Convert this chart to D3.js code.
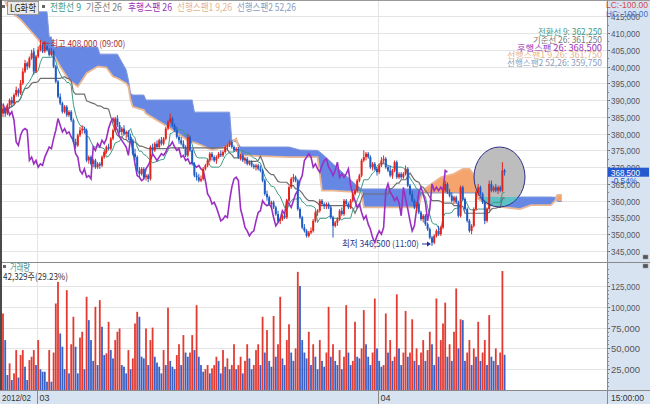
<!DOCTYPE html>
<html><head><meta charset="utf-8">
<script src="https://cdn.jsdelivr.net/npm/d3@7/dist/d3.min.js"></script>
<style>
html,body{margin:0;padding:0;background:#fff;overflow:hidden}
svg{display:block}
text{font-family:"Noto Sans CJK KR","Noto Sans",sans-serif}
.num{font-family:"Liberation Sans",Arial,sans-serif}
</style></head><body>
<svg id="chart" width="650" height="404"></svg>
<script>
// ---- DATA (prices in thousand KRW, volume in thousand shares) ----
const opens=[386,387.5,386,388.5,390,389,391.5,393,392,395,
398.5,401,400,402.5,404.5,398.5,403,405,406.5,404.5,
406,405,403.5,404.5,400,395.5,391,389,386.5,388,
385.5,386.5,384,377.5,376.5,379.5,381,381.5,381,372,
373,371,372,370,371,370.5,373,374.5,376,375.5,
378.5,381,384.5,382.5,380.5,381.5,380,380.5,379,378,
374,373,369,368,369.5,367,367.5,366.5,376,375,
377,376,378,377,378.5,381.5,383.5,384.5,382.5,381,
379,378,377,376,373.5,379,375,371,367.5,367,
366,366.5,369.5,370.5,372,374,373,372,373,374,
373.5,374.5,376,376.5,377.5,376,375,375.5,373,373.5,
372,372.5,371,371.5,370.5,370,370.5,369.5,369,366,
362,361,359,359.5,358,356,354,354.5,355.5,355,
360,364,366.5,367,366,357.5,355,352,351,349.5,
350.5,351,354,356.5,357,360,359,358.5,359,358,
355,352.5,353.5,354.5,357,356,360,359,358,360,
362,363,366,367.5,372,373,374,373,370,371,
369.5,368.5,370.5,372,372.5,370,369,367.5,369,371.5,
367,368,367,368,369.5,364.5,362,360,358,359,
356.5,354.5,355.5,353,351.5,349,347.5,349.5,351,350,
352,363,365,362.5,361.5,360,361,359.5,355.5,364,
360.5,357.5,354,351,352.5,357.5,362.5,364,362,359.5,
354,357.5,365,363,364,363,364,363,369];
const closes=[387.5,386,388.5,390,389,391.5,393,392,395,398.5,
401,400,402.5,404,398.5,403,405,406.5,404.5,406,
405,403.5,404.5,400,395.5,391,389,386.5,388,385.5,
386.5,384,377.5,376.5,379.5,381,381.5,381,372,373,
371,372,370,371,370.5,373,374.5,376,375.5,378.5,
381,384.5,382.5,380.5,381.5,380,380.5,379,378,374,
373,369,368,369.5,367,367.5,366.5,376,375,377,
376,378,377,378.5,381.5,383.5,384.5,382.5,381,379,
378,377,376,373.5,379,375,371,367.5,367,366,
366.5,369.5,370.5,372,374,373,372,373,374,373.5,
374.5,376,376.5,377.5,376,375,375.5,373,373.5,372,
372.5,371,371.5,370.5,370,370.5,369.5,369,366,362,
361,359,359.5,358,356,354,354.5,355.5,355,360,
364,366.5,367,366,357.5,355,352,351,349.5,350.5,
351,354,356.5,357,360,359,358.5,359,358,355,
352.5,353.5,354.5,357,356,360,359,358,360,362,
363,366,367.5,372,373,374,373,370,371,369.5,
368.5,370.5,372,372.5,370,369,367.5,369,371.5,367,
368,367,368,369.5,364.5,362,360,358,359,356.5,
354.5,355.5,353,351.5,349,347.5,349.5,351,350,352,
363,365,362.5,361.5,360,361,359.5,355.5,364,360.5,
357.5,354,351,352.5,357.5,362.5,364,362,359.5,354,
357.5,365,363,364,363,364,363,369,368.5];
const highs=[388.5,388,389,390.5,391,392,394,393.5,396,399.5,
402,401.5,403,405,405.5,403.5,406,408,407,407,
406.5,405.5,405.5,405,400.5,396,392,389.5,388.5,388.5,
387,387,384.5,378.5,380,382,382.5,382,381.5,373.5,
373.5,372.5,372.5,371.5,371.5,373.5,375,376.5,377,379,
381.5,385,385.5,383.5,382,382.5,381,381,380,378.5,
375.5,373.5,370,370,370,368,368,376.5,377,377.5,
378,378.5,379,379,382,384,386,385,383,382,
379.5,379,378,376.5,380,379.5,375.5,371.5,368.5,368,
367.5,370,371,372.5,374.5,374.5,373.5,373.5,374.5,375,
375,376.5,377,378,378,376.5,376,376,374,374,
373,373,372,372,371,371,371,370.5,369.5,366.5,
363,361.5,360,360,358.5,357,355,356,356,360.5,
364.5,367,368,367.5,366.5,358,355.5,353,351.5,351,
352,354.5,357,357.5,360.5,360.5,359.5,359.5,359.5,358.5,
355.5,354,355,357.5,358,360.5,360.5,359.5,360.5,362.5,
363.5,366.5,368,372.5,375,374.5,374.5,373.5,371.5,371.5,
370,371,373,373.5,373,370.5,370.5,369.5,372,372,
368.5,368.5,368.5,370.5,370,365,363,360.5,359.5,359.5,
357,356,356,353.5,352,349.5,350,351.5,352.5,352.5,
363.5,366,365.5,363.5,362.5,361.5,361.5,360,364.5,364.5,
361,358,354.5,353,358,363,365,364.5,362.5,360,
358,366,366,364.5,365,364.5,364.5,371.5,369.5];
const lows=[385,385,385.5,387.5,388,388.5,391,391,391.5,394.5,
398,399,399.5,402,397.5,398,402.5,404.5,404,404,
404.5,403,403,399.5,395,390.5,388.5,386,386,385,
385,383.5,377,375.5,376,379,380,380,371.5,371,
370.5,370,369.5,369.5,369.5,370,372.5,374,375,375,
378,380.5,382,380,379.5,379.5,378.5,378,377.5,373.5,
372,368.5,367,367.5,366.5,366,365.5,366,374,374.5,
375.5,375.5,376.5,376.5,378,381,383,382,380.5,378.5,
377,376.5,375.5,373,373,374.5,370.5,367,366,365.5,
365.5,366,369,370,371.5,372,371.5,371,372.5,373,
373,374,375,376,375.5,374.5,374.5,372.5,372,371.5,
371,370.5,370.5,370,369.5,369,369,368.5,365.5,361.5,
360,358.5,357.5,357.5,355.5,353.5,353,354,354.5,354.5,
359.5,363.5,365.5,365.5,357,354.5,351.5,350.5,349,349,
350,350.5,353.5,355.5,356.5,358.5,357.5,357.5,357.5,354.5,
349,352,352.5,354,355.5,355.5,358.5,357.5,357.5,359.5,
361.5,362.5,365.5,367,371.5,372,372.5,369.5,369,369,
367.5,368,370,371,369.5,368.5,367,366.5,368.5,366.5,
366.5,366.5,366.5,367.5,364,361.5,359.5,357.5,356.5,356,
354,353.5,352.5,351,348.5,346.5,347,349,349.5,349.5,
351.5,362.5,362,361,359.5,359,359,355,355,360,
357,353.5,350.5,350,352,357,361.5,361.5,359,353,
353.5,357,362.5,362.5,362.5,362,362.5,362.5,367.5];
const volumes=[92,60,18,32,12,20,48,15,42,48,
28,12,36,40,48,30,60,25,22,22,
10,48,10,45,104,130,68,52,25,120,
20,55,88,52,20,63,70,25,112,84,
60,35,100,30,108,76,42,44,82,48,
38,60,70,74,30,28,20,48,25,38,
80,94,88,40,38,74,30,60,75,40,
33,28,20,48,30,99,35,28,25,42,
55,30,66,45,40,45,66,48,102,40,
30,22,25,30,20,26,30,40,35,20,
48,28,38,25,30,55,25,30,40,20,
35,55,38,25,30,48,55,30,88,45,
72,35,28,89,40,55,112,38,30,60,
79,45,35,50,142,125,60,45,38,70,
30,55,40,25,60,35,28,45,100,40,
55,35,30,48,25,40,102,45,30,35,
82,40,38,50,96,55,40,30,45,110,
50,35,28,30,92,45,60,35,40,115,
50,30,45,95,40,45,85,35,50,30,
45,60,35,48,70,55,30,110,40,60,
80,105,40,55,35,70,122,50,85,84,
35,45,60,30,50,40,82,35,45,60,
30,90,40,35,50,30,45,143,42.329];
// Ichimoku cloud (leading spans, already shifted 26 periods ahead) read at break points
const cloudIdx=[0,3,8,13,20,21,22,23,26,30,34,38,43,44,47,50,52,56,57,58,59,64,65,75,84,86,87,90,95,101,103,104,106,108,130,135,143,145,150,155,160,163,164,189,190,192,199,205,209,212,215,216,221,228,235,240,249,251,252,254];
const span1=[421,416.5,414,410.3,405,404.5,404,403.5,400,396,394,398,400,400,399.7,397,396.5,395,394,390,388,387,386,382,378,377.5,377.3,376.6,375.1,376,377,377.5,378.5,373.5,373,373,373,363,363,362.8,362.6,362.5,358,358,361,363.7,367,368,369.5,369.5,367,360.5,358.7,358,357.5,358.7,358.7,360,361.75,361.75];
const span2=[421,416.6,416.3,416.3,416.3,408.8,408.8,405.8,405.8,405.8,405.8,405.8,405.8,403.7,403.7,403.7,403.7,399,396,392,391.5,391.5,390,390,390,390,386.4,386.4,386.4,386.4,386.4,378,377.5,376,376,375.1,375,374,371,368,365,363.5,363.5,363.5,362.3,362.3,362.3,362.3,362.3,362.3,362.3,361.1,361.1,361.1,361.1,361.1,361.1,361,359.75,359.75];
const priceTicks=[345,350,355,360,365,370,375,380,385,390,395,400,405,410,415];
const volTicks=[25,50,75,100,125];
const monthStarts=[{label:"03",idx:16},{label:"04",idx:171}];
const legendItems=[
 {t:"전환선 9",x:50,w:31,c:"#3d9a86"},
 {t:"기준선 26",x:86,w:36,c:"#7a7a7a"},
 {t:"후행스팬 26",x:128,w:44,c:"#9b30b8"},
 {t:"선행스팬1 9,26",x:177,w:55,c:"#e6b48e"},
 {t:"선행스팬2 52,26",x:237,w:59,c:"#8a9cbc"}];
const valueItems=[
 {t:"전환선 9: 362,250",w:64,c:"#3d9a86"},
 {t:"기준선 26: 361,250",w:69,c:"#7a7a7a"},
 {t:"후행스팬 26: 368,500",w:85,c:"#9b30b8"},
 {t:"선행스팬1 9,26: 361,750",w:95,c:"#e6b48e"},
 {t:"선행스팬2 52,26: 359,750",w:95,c:"#8a9cbc"}];

// ---- LAYOUT ----
const svg=d3.select("#chart");
const AX=607, PT=1, PB=262, VT=263, VB=390;
const N=closes.length;
const x=d3.scaleLinear().domain([0,254]).range([3,3+254*2.2]);
const y=d3.scaleLinear().domain([345,410]).range([251,33]);
const yv=d3.scaleLinear().domain([0,125]).range([390,286]);
const fmt=d3.format(",");
const RED="#e3241b", BLUE="#1f5cc4";

const defs=svg.append("defs");
defs.append("clipPath").attr("id","pclip").append("rect").attr("x",2).attr("y",PT).attr("width",AX-2).attr("height",PB-PT);
defs.append("clipPath").attr("id","vclip").append("rect").attr("x",2).attr("y",VT).attr("width",AX-2).attr("height",VB-VT);
const EC={cx:499.5,cy:177,rx:25.5,ry:30};
defs.append("clipPath").attr("id","eclip").append("ellipse").attr("cx",EC.cx).attr("cy",EC.cy).attr("rx",EC.rx).attr("ry",EC.ry);

// backgrounds
svg.append("rect").attr("x",0).attr("y",0).attr("width",650).attr("height",404).attr("fill","#fff");
svg.append("rect").attr("x",AX).attr("y",0).attr("width",650-AX).attr("height",404).attr("fill","#d8e3f2");
svg.append("rect").attr("x",0).attr("y",VB).attr("width",650).attr("height",404-VB).attr("fill","#d8e3f2");

// grids
const grid=svg.append("g").attr("stroke","#e4e4e4").attr("stroke-width",1);
priceTicks.forEach(v=>{const yy=Math.round(y(v))+0.5; if(yy>PT&&yy<PB) grid.append("line").attr("x1",2).attr("x2",AX).attr("y1",yy).attr("y2",yy);});
volTicks.forEach(v=>{const yy=Math.round(yv(v))+0.5; grid.append("line").attr("x1",2).attr("x2",AX).attr("y1",yy).attr("y2",yy);});
monthStarts.forEach(m=>{const xx=Math.round(x(m.idx)-1.1)+0.5; grid.append("line").attr("x1",xx).attr("x2",xx).attr("y1",PT).attr("y2",VB);});

// cloud
const pg=svg.append("g").attr("clip-path","url(#pclip)");
const cloud=cloudIdx.map((k,j)=>({k,a:span1[j],b:span2[j]}));
const areaBlue=d3.area().x(d=>x(d.k)).y0(d=>y(d.a)).y1(d=>y(Math.max(d.a,d.b)));
const areaOrange=d3.area().x(d=>x(d.k)).y0(d=>y(d.b)).y1(d=>y(Math.max(d.a,d.b)));
pg.append("path").datum(cloud).attr("d",areaBlue).attr("fill","#6688e4");
pg.append("path").datum(cloud).attr("d",areaOrange).attr("fill","#f4a46c");
pg.append("path").datum(cloud).attr("d",d3.line().x(d=>x(d.k)).y(d=>y(d.b))).attr("fill","none").attr("stroke","#7f97dd").attr("stroke-width",1);
pg.append("path").datum(cloud).attr("d",d3.line().x(d=>x(d.k)).y(d=>y(d.a))).attr("fill","none").attr("stroke","#ebb793").attr("stroke-width",1.8);

// highlight ellipse
pg.append("ellipse").attr("cx",EC.cx).attr("cy",EC.cy).attr("rx",EC.rx).attr("ry",EC.ry).attr("fill","#bdbdbd");
const eg=pg.append("g").attr("clip-path","url(#eclip)");
eg.append("path").datum(cloud).attr("d",areaBlue).attr("fill","#5cc2c6");

// ichimoku lines computed from candles
function mid(i,p){const s=Math.max(0,i-p+1);return (d3.max(highs.slice(s,i+1))+d3.min(lows.slice(s,i+1)))/2;}
const conv=d3.range(N).map(i=>mid(i,9));
const base=d3.range(N).map(i=>mid(i,26));
const ln=d3.line().x((d,i)=>x(i)).y(d=>y(d));
pg.append("path").datum(base).attr("d",ln).attr("fill","none").attr("stroke","#6f6f6f").attr("stroke-width",1.2);
pg.append("path").datum(conv).attr("d",ln).attr("fill","none").attr("stroke","#3d9a86").attr("stroke-width",1);
const lag=closes.map((c,i)=>({i:i-26,c})).filter(d=>d.i>=0);
pg.append("path").datum(lag).attr("d",d3.line().x(d=>x(d.i)).y(d=>y(d.c))).attr("fill","none").attr("stroke","#9b2fc2").attr("stroke-width",1.6);

// candles
const cg=pg.append("g");
d3.range(N).forEach(i=>{
  const up=closes[i]>=opens[i]; const col=up?RED:BLUE; const cx=x(i);
  cg.append("line").attr("x1",cx).attr("x2",cx).attr("y1",y(highs[i])).attr("y2",y(lows[i])).attr("stroke",col).attr("stroke-width",1);
  const t=y(Math.max(opens[i],closes[i])), b=y(Math.min(opens[i],closes[i]));
  cg.append("rect").attr("x",cx-1).attr("y",t).attr("width",2).attr("height",Math.max(1,b-t)).attr("fill",col);
});
pg.append("ellipse").attr("cx",EC.cx).attr("cy",EC.cy).attr("rx",EC.rx).attr("ry",EC.ry).attr("fill","none").attr("stroke","#2b2f8c").attr("stroke-width",1);

// volume
const vg=svg.append("g").attr("clip-path","url(#vclip)");
volumes.forEach((v,i)=>{
  const up=i===0?true:v>volumes[i-1];
  vg.append("rect").attr("x",x(i)-0.9).attr("y",yv(v)).attr("width",1.8).attr("height",yv(0)-yv(v)).attr("fill",up?"#e0261c":"#2450bf").attr("opacity",0.9);
});

// borders
svg.append("line").attr("x1",0).attr("x2",650).attr("y1",0.5).attr("y2",0.5).attr("stroke","#9a9a9a");
svg.append("line").attr("x1",0).attr("x2",650).attr("y1",PB+0.5).attr("y2",PB+0.5).attr("stroke","#8a8a8a");
svg.append("line").attr("x1",0).attr("x2",650).attr("y1",VB+0.5).attr("y2",VB+0.5).attr("stroke","#8a8a8a");
svg.append("line").attr("x1",AX+0.5).attr("x2",AX+0.5).attr("y1",0).attr("y2",404).attr("stroke","#8a8a8a");
svg.append("line").attr("x1",1).attr("x2",1).attr("y1",0).attr("y2",VB).attr("stroke","#4a4a4a").attr("stroke-width",2);

// price axis
const ax=svg.append("g");
function axLabel(txt,yy,col){return ax.append("text").attr("class","num").attr("x",AX+4).attr("y",yy).attr("font-size",9).attr("fill",col||"#555").attr("textLength",29).attr("lengthAdjust","spacingAndGlyphs").text(txt);}
priceTicks.forEach(v=>{const yy=Math.round(y(v))+0.5;
  ax.append("line").attr("x1",AX).attr("x2",AX+3).attr("y1",yy).attr("y2",yy).attr("stroke","#666");
  axLabel(fmt(v*1000),yy+3.5);});
d3.range(345,415,2.5).forEach(v=>{const yy=Math.round(y(v))+0.5; ax.append("line").attr("x1",AX).attr("x2",AX+2).attr("y1",yy).attr("y2",yy).attr("stroke","#888");});
volTicks.forEach(v=>{const yy=Math.round(yv(v))+0.5;
  ax.append("line").attr("x1",AX).attr("x2",AX+3).attr("y1",yy).attr("y2",yy).attr("stroke","#666");
  axLabel(fmt(v*1000),yy+3.5);});
d3.range(5,150,5).forEach(v=>{const yy=Math.round(yv(v))+0.5; if(yy>VT) ax.append("line").attr("x1",AX).attr("x2",AX+2).attr("y1",yy).attr("y2",yy).attr("stroke","#888");});

// LC/HC
svg.append("rect").attr("x",AX+1).attr("y",1).attr("width",42).attr("height",9).attr("fill","#d8e3f2");
svg.append("text").attr("class","num").attr("x",606).attr("y",8).attr("font-size",9).attr("fill","#d04a4a").attr("textLength",42).attr("lengthAdjust","spacingAndGlyphs").text("LC:-100.00");
svg.append("text").attr("class","num").attr("x",606).attr("y",16.5).attr("font-size",9).attr("fill","#3a6fcc").attr("textLength",42).attr("lengthAdjust","spacingAndGlyphs").text("HC:-100.00");
// last price box
const last=closes[N-1];
svg.append("rect").attr("x",AX+1).attr("y",y(last)-4.5).attr("width",41).attr("height",9).attr("fill","#2458cf");
svg.append("text").attr("class","num").attr("x",AX+4).attr("y",y(last)+3.5).attr("font-size",9).attr("fill","#fff").attr("textLength",29).attr("lengthAdjust","spacingAndGlyphs").text(fmt(last*1000));
svg.append("text").attr("class","num").attr("x",AX+4).attr("y",y(last)+11.5).attr("font-size",9).attr("fill","#2458cf").attr("textLength",26).attr("lengthAdjust","spacingAndGlyphs").text("-0.54%");
// small icons
[[643,255],[643,264]].forEach(p=>svg.append("rect").attr("x",p[0]).attr("y",p[1]).attr("width",5).attr("height",4).attr("fill","#555").attr("stroke","#999").attr("stroke-width",0.5));

// legend
svg.append("rect").attr("x",2).attr("y",5).attr("width",3).attr("height",3).attr("fill","#666");
svg.append("rect").attr("x",7.5).attr("y",1.5).attr("width",31).attr("height",13).attr("fill","#e9e9e9").attr("stroke","#9a9a9a");
svg.append("text").attr("x",10).attr("y",11.5).attr("font-size",10).attr("fill","#222").attr("textLength",26).attr("lengthAdjust","spacingAndGlyphs").text("LG화학");
svg.append("rect").attr("x",42).attr("y",5).attr("width",3).attr("height",3).attr("fill","#666");
legendItems.forEach(d=>svg.append("text").attr("x",d.x).attr("y",11).attr("font-size",10).attr("fill",d.c).attr("textLength",d.w).attr("lengthAdjust","spacingAndGlyphs").text(d.t));
valueItems.forEach((d,k)=>svg.append("text").attr("x",602-d.w).attr("y",35+k*7.8).attr("font-size",8.5).attr("fill",d.c).attr("textLength",d.w).attr("lengthAdjust","spacingAndGlyphs").text(d.t));

// annotations high / low
const hiI=d3.maxIndex(highs), loI=d3.minIndex(lows);
const hy=y(highs[hiI]), ly=y(lows[loI]);
svg.append("line").attr("x1",x(hiI)+9).attr("x2",x(hiI)+3).attr("y1",hy+3.5).attr("y2",hy+3.5).attr("stroke","#c0302c");
svg.append("path").attr("d",`M${x(hiI)+1},${hy+3.5} l4,-2.5 l0,5 z`).attr("fill","#c0302c");
svg.append("text").attr("x",x(hiI)+10).attr("y",hy+7).attr("font-size",9).attr("fill","#a8343a").attr("textLength",75).attr("lengthAdjust","spacingAndGlyphs").text("최고 "+fmt(highs[hiI]*1000)+" (09:00)");
svg.append("text").attr("x",x(loI)-90).attr("y",ly+1.5).attr("font-size",9).attr("fill","#283a8c").attr("textLength",77).attr("lengthAdjust","spacingAndGlyphs").text("최저 "+fmt(lows[loI]*1000)+" (11:00)");
svg.append("line").attr("x1",x(loI)-10).attr("x2",x(loI)-4).attr("y1",ly-2).attr("y2",ly-2).attr("stroke","#2030a0");
svg.append("path").attr("d",`M${x(loI)-1},${ly-2} l-4,-2.5 l0,5 z`).attr("fill","#2030a0");

// volume header
svg.append("rect").attr("x",3).attr("y",265).attr("width",3).attr("height",3).attr("fill","#666");
svg.append("text").attr("x",10).attr("y",270.5).attr("font-size",10).attr("fill","#3d9a9a").attr("textLength",20).attr("lengthAdjust","spacingAndGlyphs").text("거래량");
svg.append("text").attr("x",3).attr("y",280).attr("font-size",9.5).attr("fill","#333").attr("textLength",65).attr("lengthAdjust","spacingAndGlyphs").text(fmt(Math.round(volumes[N-1]*1000))+"주(29.23%)");

// date axis
const dg=svg.append("g");
dg.append("text").attr("class","num").attr("x",2).attr("y",400.5).attr("font-size",9).attr("fill","#333").attr("textLength",29).attr("lengthAdjust","spacingAndGlyphs").text("2012/02");
monthStarts.forEach(m=>{const xx=Math.round(x(m.idx)-1.1)+0.5;
  dg.append("line").attr("x1",xx).attr("x2",xx).attr("y1",VB).attr("y2",404).attr("stroke","#8a8a8a");
  dg.append("text").attr("class","num").attr("x",xx+2).attr("y",400.5).attr("font-size",9).attr("fill","#333").text(m.label);});
dg.append("text").attr("class","num").attr("x",611).attr("y",400.5).attr("font-size",9).attr("fill","#333").attr("textLength",33).attr("lengthAdjust","spacingAndGlyphs").text("15:00:00");
</script></body></html>
